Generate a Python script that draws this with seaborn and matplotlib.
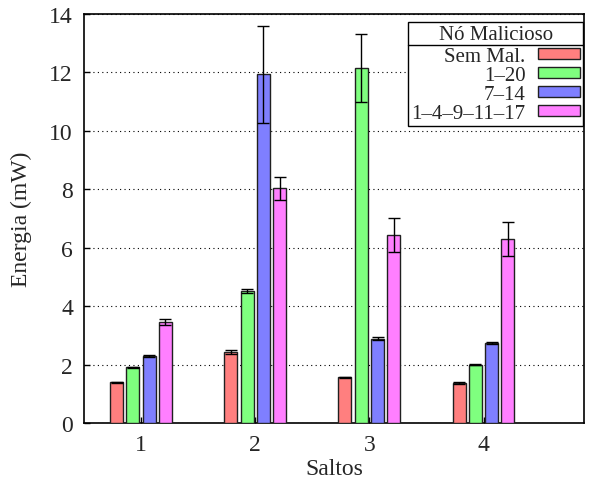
import numpy as np
import pandas as pd
import seaborn as sns
import matplotlib.pyplot as plt
from matplotlib.lines import Line2D

sns.set_style('white')
plt.rcParams['font.family'] = ['Liberation Serif', 'DejaVu Serif']

# data
saltos = ['1', '2', '3', '4']
series = ['Sem Mal.', '1\u201320', '7\u201314', '1\u20134\u20139\u201311\u201317']
sem_mal = [1.40, 2.43, 1.57, 1.37]
n_1_20 = [1.90, 4.52, 12.15, 2.00]
n_7_14 = [2.29, 11.93, 2.88, 2.74]
n_multi = [3.45, 8.03, 6.43, 6.30]
err_sem_mal = [0.02, 0.06, 0.02, 0.02]
err_1_20 = [0.02, 0.08, 1.15, 0.03]
err_7_14 = [0.03, 1.65, 0.05, 0.03]
err_multi = [0.10, 0.40, 0.58, 0.58]
colors = ['#ff7f7f', '#7fff7f', '#7f7fff', '#ff7fff']

vals = [sem_mal, n_1_20, n_7_14, n_multi]
errs = [err_sem_mal, err_1_20, err_7_14, err_multi]

rows = []
for s, v in zip(series, vals):
    for x, y in zip(saltos, v):
        rows.append({'Saltos': x, 'Energia': y, 'No': s})
df = pd.DataFrame(rows)

fs = 17
lfs = 15

fig, ax = plt.subplots(figsize=(5.95, 4.81), dpi=100)
fig.subplots_adjust(left=84/595, right=584/595, top=1-15/481, bottom=1-424/481)

sns.barplot(data=df, x='Saltos', y='Energia', hue='No', order=saltos,
            hue_order=series, palette=colors, saturation=1, width=0.57, gap=0.2,
            errorbar=None, edgecolor='#202020', linewidth=1, ax=ax, zorder=3)

# error bars on each bar
for cont, e in zip(ax.containers, errs):
    xs = [b.get_x() + b.get_width() / 2 for b in cont]
    hs = [b.get_height() for b in cont]
    ax.errorbar(xs, hs, yerr=e, fmt='none', ecolor='black', elinewidth=1,
                capsize=4, capthick=1, zorder=4)

ax.set_xlim(-0.5, 3.88)
ax.set_ylim(0, 14)
ax.set_yticks(np.arange(0, 15, 2))
ax.yaxis.grid(True, color='black', linestyle=(0, (1, 3)), linewidth=0.8)
ax.set_axisbelow(True)
ax.tick_params(direction='in', labelsize=fs, length=4, width=1, color='black',
               left=True, bottom=True, pad=8)
for sp in ax.spines.values():
    sp.set_color('black')
    sp.set_linewidth(1.2)
ax.set_xlabel('Saltos', fontsize=fs, labelpad=2)
ax.set_ylabel('Energia (mW)', fontsize=fs, labelpad=12)

leg = ax.legend(title='N\u00f3 Malicioso', loc='upper right',
                bbox_to_anchor=(0.998, 0.98), markerfirst=False,
                fontsize=lfs, title_fontsize=lfs, frameon=True, fancybox=False,
                framealpha=1, edgecolor='black', borderpad=0.15,
                labelspacing=0.0, handlelength=2.0, handleheight=0.45,
                handletextpad=0.6, borderaxespad=0)
leg.get_frame().set_linewidth(1)
leg.set_zorder(5)
leg._legend_box.sep = 2

# line under the legend title
fig.canvas.draw()
fb = leg.get_frame().get_window_extent()
tb = leg.get_title().get_window_extent()
first = leg.get_texts()[0].get_window_extent()
yline = (tb.y0 + first.y1) / 2 + 1
inv = fig.transFigure.inverted()
(x0, y0) = inv.transform((fb.x0, yline))
(x1, y1) = inv.transform((fb.x1, yline))
fig.add_artist(Line2D([x0, x1], [y0, y1], color='black', linewidth=1, zorder=6))

fig.savefig('out.png', dpi=100)
